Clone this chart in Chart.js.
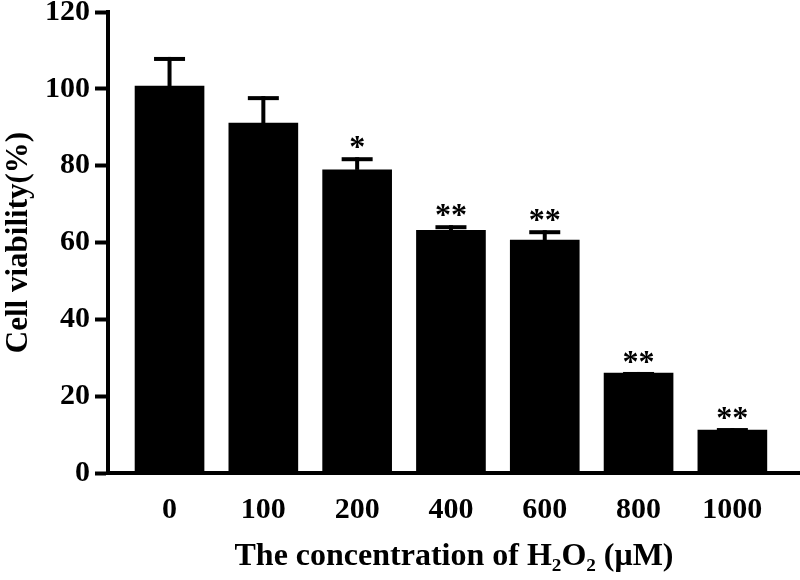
<!DOCTYPE html>
<html>
<head>
<meta charset="utf-8">
<script src="https://cdn.jsdelivr.net/npm/chart.js@4"></script>
<style>
  html, body { margin: 0; padding: 0; background: #fff; }
  #wrap { width: 800px; height: 580px; }
</style>
</head>
<body>
<div id="wrap"><canvas id="myChart" width="800" height="580"></canvas></div>
<script>
// values
const concentrations = ['0', '100', '200', '400', '600', '800', '1000'];
const viability = [100.7, 91.1, 78.9, 63.2, 60.6, 26.0, 11.2];
const sd = [7.6, 7.0, 3.3, 1.3, 2.6, 0.3, 0.5];
const stars = ['', '', '*', '**', '**', '**', '**'];
const yTicks = [0, 20, 40, 60, 80, 100, 120];

const serif = '"Liberation Serif", "Times New Roman", serif';

// error bars + significance marks
const errorBars = {
  id: 'errorBars',
  afterDatasetsDraw(chart) {
    const c = chart.ctx;
    const xs = chart.scales.x, ys = chart.scales.y;
    c.save();
    c.fillStyle = '#000';
    c.strokeStyle = '#000';
    c.lineWidth = 4;
    viability.forEach(function (v, i) {
      const x = xs.getPixelForValue(i);
      const yBar = ys.getPixelForValue(v);
      const yTop = ys.getPixelForValue(v + sd[i]);
      c.beginPath();
      c.moveTo(x, yBar);
      c.lineTo(x, yTop);
      c.stroke();
      c.fillRect(x - 15.5, yTop, 31, 4);
      if (stars[i]) {
        c.font = 'bold 32px ' + serif;
        c.textAlign = 'center';
        c.textBaseline = 'alphabetic';
        c.fillText(stars[i], x, yTop);
      }
    });
    c.restore();
  }
};

let ctx = document.getElementById('myChart');

new Chart(ctx, {
  type: 'bar',
  data: {
    datasets: [{
      data: viability.map((v, i) => ({ x: i, y: v })),
      backgroundColor: '#000',
      borderWidth: 0,
      barThickness: 69
    }]
  },
  options: {
    responsive: false,
    animation: false,
    layout: { padding: { top: 12, right: 0, left: 0, bottom: 0 } },
    plugins: { legend: { display: false }, tooltip: { enabled: false } },
    scales: {
      x: {
        type: 'linear',
        offset: false,
        min: -0.656,
        max: 6.721,
        grid: { display: false },
        border: { display: true, color: '#000', width: 4 },
        ticks: {
          stepSize: 1,
          autoSkip: false,
          includeBounds: false,
          maxRotation: 0,
          padding: 11,
          color: '#000',
          font: { family: serif, size: 30, weight: 'bold' },
          callback: (v) => Number.isInteger(v) && concentrations[v] !== undefined ? concentrations[v] : ''
        },
        title: {
          display: true,
          text: 'The concentration of H\u2082O\u2082 (\u03bcM)',
          color: '#000',
          font: { family: serif, size: 32, weight: 'bold' },
          padding: { top: 0, bottom: 4 }
        },
        afterFit(scale) {
          scale.height = 107;
          scale.paddingLeft = 0;
          scale.paddingRight = 0;
        }
      },
      y: {
        min: 0,
        max: 120,
        afterBuildTicks(scale) {
          scale.ticks = yTicks.map(v => ({ value: v }));
        },
        grid: {
          drawOnChartArea: false,
          drawTicks: true,
          tickLength: 13,
          tickWidth: 4,
          tickColor: '#000'
        },
        border: { display: true, color: '#000', width: 4 },
        ticks: {
          padding: 5,
          color: '#000',
          font: { family: serif, size: 30, weight: 'bold' }
        },
        title: {
          display: true,
          text: 'Cell viability(%)',
          color: '#000',
          font: { family: serif, size: 31, weight: 'bold' },
          padding: { top: 0, bottom: 0 }
        },
        afterFit(scale) {
          scale.width = 108;
          scale.paddingTop = 0;
          scale.paddingBottom = 0;
        }
      }
    }
  },
  plugins: [errorBars]
});
</script>
</body>
</html>
